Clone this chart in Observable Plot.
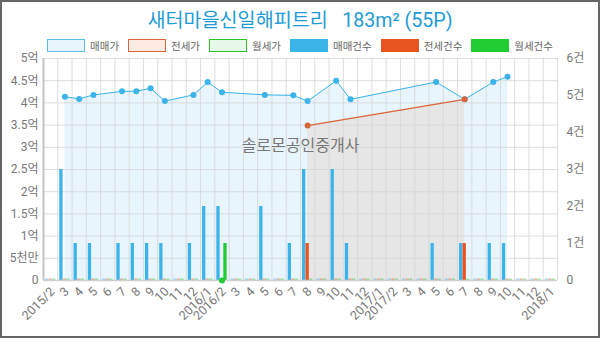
<!DOCTYPE html>
<html><head><meta charset="utf-8">
<script src="https://cdn.jsdelivr.net/npm/d3@7"></script>
<script src="https://cdn.jsdelivr.net/npm/@observablehq/plot@0.6"></script>
<style>
body{margin:0;background:#fff;}
#wrap{position:relative;width:600px;height:338px;overflow:hidden;font-family:Roboto,"Noto Sans CJK KR",sans-serif;background:#fff;}
#frame{position:absolute;left:0;top:0;width:600px;height:338px;box-sizing:border-box;border:2px solid #666;pointer-events:none;}
#title{position:absolute;top:4px;left:0;width:100%;text-align:center;font-size:19.6px;color:#1e9cd7;white-space:pre;}
#legend{position:absolute;top:38px;left:0;width:100%;display:flex;justify-content:center;font-size:10.5px;color:#666;}
.item{display:flex;align-items:center;margin:0 4.5px;}
.sw{width:38px;height:13px;box-sizing:border-box;margin-right:5px;}
#chart{position:absolute;top:50px;left:0;}
</style></head>
<body>
<div id="wrap">
<div id="title"></div>
<div id="legend"></div>
<div id="chart"></div>
<div id="frame"></div>
</div>
<script>
const titleText = "새터마을신일해피트리   183m² (55P)";
const months = ["2015-02","2015-03","2015-04","2015-05","2015-06","2015-07","2015-08","2015-09","2015-10","2015-11","2015-12",
 "2016-01","2016-02","2016-03","2016-04","2016-05","2016-06","2016-07","2016-08","2016-09","2016-10","2016-11","2016-12",
 "2017-01","2017-02","2017-03","2017-04","2017-05","2017-06","2017-07","2017-08","2017-09","2017-10","2017-11","2017-12","2018-01"];
const tickLabels = ["2015/2","3","4","5","6","7","8","9","10","11","12",
 "2016/1","2016/2","3","4","5","6","7","8","9","10","11","12",
 "2017/1","2017/2","3","4","5","6","7","8","9","10","11","12","2018/1"];

const saleMonths = ["2015-03","2015-04","2015-05","2015-07","2015-08","2015-09","2015-10","2015-12","2016-01","2016-02","2016-05","2016-07","2016-08","2016-10","2016-11","2017-05","2017-07","2017-09","2017-10"];
const salePrice  = [4.14,4.09,4.18,4.26,4.26,4.33,4.04,4.18,4.47,4.24,4.18,4.17,4.04,4.50,4.08,4.47,4.08,4.47,4.59];
const saleCount  = [3,1,1,1,1,1,1,1,2,2,2,1,3,3,1,1,1,1,1];
const jeonseMonths = ["2016-08","2017-07"];
const jeonsePrice  = [3.49,4.08];
const jeonseCount  = [1,1];
const wolseMonths = ["2016-02"];
const wolsePrice  = [0];
const wolseCount  = [1];

const leftTicks = [0,0.5,1,1.5,2,2.5,3,3.5,4,4.5,5];
const leftTickLabels = ["0","5천만","1억","1.5억","2억","2.5억","3억","3.5억","4억","4.5억","5억"];
const rightTicks = [0,1,2,3,4,5,6];
const rightTickLabels = ["0","1건","2건","3건","4건","5건","6건"];
const watermark = "솔로몬공인중개사";

const legendItems = [
 {label:"매매가", fill:"#e8f5fc", stroke:"#5bbde8"},
 {label:"전세가", fill:"#fcebe3", stroke:"#d9663a"},
 {label:"월세가", fill:"#e6f8e6", stroke:"#2ec42e"},
 {label:"매매건수", fill:"#3bb4ea", stroke:"#3bb4ea"},
 {label:"전세건수", fill:"#e8531f", stroke:"#e8531f"},
 {label:"월세건수", fill:"#22cc33", stroke:"#22cc33"}
];

document.getElementById("title").textContent = titleText;
const lg = document.getElementById("legend");
for (const it of legendItems) {
  const d = document.createElement("div"); d.className = "item";
  const s = document.createElement("div"); s.className = "sw";
  s.style.background = it.fill; s.style.border = "1.5px solid " + it.stroke;
  const t = document.createElement("span"); t.textContent = it.label;
  d.appendChild(s); d.appendChild(t); lg.appendChild(d);
}

const BLUE = "#3bb4ea", ORANGE = "#e8531f", GREEN = "#22cc33", ORANGE_LINE = "#d9663a";
const X = m => months.indexOf(m) + 0.5;
const cnt = c => c * 5 / 6;

const sale = saleMonths.map((m,i) => ({m, p: salePrice[i], c: saleCount[i]}));
const jeonse = jeonseMonths.map((m,i) => ({m, p: jeonsePrice[i], c: jeonseCount[i]}));
const wolse = wolseMonths.map((m,i) => ({m, p: wolsePrice[i], c: wolseCount[i]}));

function full(series) {
  return months.map(m => { const f = series.find(d => d.m === m); return {m, c: f ? f.c : 0}; });
}
const series = [
  {data: sale, off: -0.245, color: BLUE},
  {data: jeonse, off: 0, color: ORANGE},
  {data: wolse, off: 0.245, color: GREEN}
];
const bw = 0.115;

const barMarks = [];
for (const s of series) {
  const all = full(s.data);
  barMarks.push(Plot.rectY(all.filter(d => d.c === 0), {
    x1: d => X(d.m) + s.off - bw, x2: d => X(d.m) + s.off + bw, y1: 0, y2: 0,
    insetTop: -1.5, fill: s.color, fillOpacity: 0.45
  }));
  barMarks.push(Plot.rectY(all.filter(d => d.c > 0), {
    x1: d => X(d.m) + s.off - bw, x2: d => X(d.m) + s.off + bw, y1: 0, y2: d => cnt(d.c),
    fill: s.color
  }));
}

const chart = Plot.plot({
  width: 600, height: 288,
  marginLeft: 43, marginRight: 43, marginTop: 8, marginBottom: 58,
  x: {type: "linear", domain: [0, months.length], label: null},
  y: {domain: [0, 5], label: null},
  style: {fontFamily: 'Roboto,"Noto Sans CJK KR",sans-serif', fontSize: "12px", color: "#777", background: "transparent"},
  marks: [
    Plot.areaY(sale, {x: d => X(d.m), y: "p", fill: "#e8f5fc"}),
    Plot.areaY(jeonse, {x: d => X(d.m), y: "p", fill: "#e6e6e6"}),
    Plot.ruleX(d3.range(months.length + 1), {stroke: "#d4d4d4", strokeOpacity: 0.8, strokeWidth: 1}),
    Plot.ruleY(leftTicks, {stroke: "#d4d4d4", strokeOpacity: 0.8, strokeWidth: 1}),
    Plot.text([watermark], {frameAnchor: "middle", dy: -24, text: d => d, fill: "#777", fontSize: 16}),
    ...barMarks,
    Plot.ruleY([0], {stroke: "#cfcfcf", strokeWidth: 1.5}),
    Plot.ruleX([0], {stroke: "#c4c4c4", strokeWidth: 2}),
    Plot.line(sale, {x: d => X(d.m), y: "p", stroke: BLUE, strokeWidth: 1}),
    Plot.dot(sale, {x: d => X(d.m), y: "p", r: 3, fill: BLUE}),
    Plot.line(jeonse, {x: d => X(d.m), y: "p", stroke: ORANGE_LINE, strokeWidth: 1.2}),
    Plot.dot(jeonse, {x: d => X(d.m), y: "p", r: 3, fill: ORANGE_LINE}),
    Plot.dot(wolse, {x: d => X(d.m), y: "p", r: 3, fill: GREEN}),
    Plot.axisY(leftTicks, {anchor: "left", tickSize: 0, tickPadding: 5, label: null,
      tickFormat: d => leftTickLabels[leftTicks.indexOf(d)], fill: "#777"}),
    Plot.axisY(rightTicks.map(cnt), {anchor: "right", tickSize: 0, tickPadding: 9, label: null,
      tickFormat: d => rightTickLabels[Math.round(d * 6 / 5)], fill: "#777"}),
    Plot.axisX(months.map((m, i) => X(m)), {tickSize: 0, tickPadding: 9, tickRotate: -45, label: null,
      dx: 2, fontSize: 12.5, tickFormat: d => tickLabels[Math.floor(d)], fill: "#777"})
  ]
});
document.getElementById("chart").appendChild(chart);
</script>
</body></html>
